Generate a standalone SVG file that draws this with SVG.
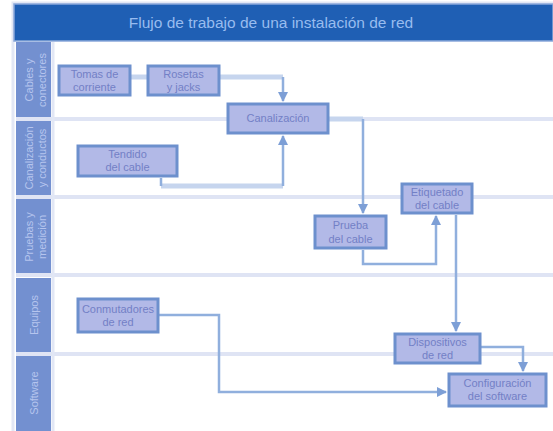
<svg xmlns="http://www.w3.org/2000/svg" width="553" height="431" viewBox="0 0 553 431">
<defs>
<style>
.box{fill:#b2b9e7;stroke:#6d90cd;stroke-width:3}
.bt{font-family:"Liberation Sans",Arial,sans-serif;font-size:11px;fill:#7280c6;text-anchor:middle}
.lane{fill:#7390d0}
.lt{font-family:"Liberation Sans",Arial,sans-serif;font-size:11px;fill:#b6c5ee;text-anchor:middle}
.sep{stroke:#dfe4f4;stroke-width:4}
.c{fill:none;stroke:#90afdd;stroke-width:2.5}
.cp{fill:none;stroke:#c6d5ee;stroke-width:5}
</style>
<marker id="ah" viewBox="0 0 10 10" refX="9" refY="5" markerWidth="4" markerHeight="4" orient="auto" markerUnits="strokeWidth">
<path d="M0,0 L10,5 L0,10 z" fill="#7d9fd6"/>
</marker>
</defs>
<rect width="553" height="431" fill="#ffffff"/>
<rect x="13" y="3" width="545" height="430" fill="none" stroke="#e2e7f5" stroke-width="3"/>
<g id="title">
<rect x="14" y="4" width="539" height="37" fill="#1f5fb4" stroke="#8aa8da" stroke-width="1.5"/>
<text x="271" y="28" font-family="Liberation Sans,Arial,sans-serif" font-size="15.5" fill="#98bcef" text-anchor="middle">Flujo de trabajo de una instalación de red</text>
</g>
<g id="lanes">
<line class="sep" x1="16" y1="119" x2="553" y2="119"/>
<line class="sep" x1="16" y1="197" x2="553" y2="197"/>
<line class="sep" x1="16" y1="275" x2="553" y2="275"/>
<line class="sep" x1="16" y1="354" x2="553" y2="354"/>
<line x1="53" y1="42" x2="53" y2="431" stroke="#e2e7f5" stroke-width="3"/>
<rect class="lane" x="16" y="42" width="35" height="75"/>
<rect class="lane" x="16" y="121" width="35" height="74"/>
<rect class="lane" x="16" y="199" width="35" height="74"/>
<rect class="lane" x="16" y="278" width="35" height="74"/>
<rect class="lane" x="16" y="356" width="35" height="75"/>
<text class="lt" transform="translate(0,80) rotate(-90)"><tspan x="0" y="33">Cables y</tspan><tspan x="0" y="46">conectores</tspan></text>
<text class="lt" transform="translate(0,158) rotate(-90)"><tspan x="0" y="33">Canalización</tspan><tspan x="0" y="46">y conductos</tspan></text>
<text class="lt" transform="translate(0,237) rotate(-90)"><tspan x="0" y="33">Pruebas y</tspan><tspan x="0" y="46">medición</tspan></text>
<text class="lt" transform="translate(0,315) rotate(-90)"><tspan x="0" y="38">Equipos</tspan></text>
<text class="lt" transform="translate(0,393) rotate(-90)"><tspan x="0" y="38">Software</tspan></text>
</g>
<g id="connectors">
<path class="cp" d="M131,77 H147"/>
<path class="cp" d="M220,77 H283"/>
<path class="c" d="M283,77 V101" marker-end="url(#ah)"/>
<path class="cp" d="M161,186 H283"/>
<path class="c" d="M161,178 V186 M283,186 V136" marker-end="url(#ah)"/>
<path class="cp" d="M329,119 H363"/>
<path class="c" d="M363,119 V213" marker-end="url(#ah)"/>
<path class="c" d="M363,250 V264 H436 V216" marker-end="url(#ah)"/>
<path class="c" d="M456,215 V331" marker-end="url(#ah)"/>
<path class="c" d="M481,347 H523 V371" marker-end="url(#ah)"/>
<path class="c" d="M159,315 H219 V392 H446" marker-end="url(#ah)"/>
</g>
<g id="n1"><rect class="box" x="59" y="66" width="71" height="29"/><text class="bt" x="94.5" y="78">Tomas de</text><text class="bt" x="94.5" y="91">corriente</text></g>
<g id="n2"><rect class="box" x="148" y="66" width="71" height="29"/><text class="bt" x="183.5" y="78">Rosetas</text><text class="bt" x="183.5" y="91">y jacks</text></g>
<g id="n3"><rect class="box" x="228" y="104" width="100" height="29"/><text class="bt" x="278" y="122">Canalización</text></g>
<g id="n4"><rect class="box" x="78" y="146" width="99" height="30"/><text class="bt" x="127.5" y="158">Tendido</text><text class="bt" x="127.5" y="171">del cable</text></g>
<g id="n5"><rect class="box" x="402" y="184" width="70" height="29"/><text class="bt" x="437" y="196">Etiquetado</text><text class="bt" x="437" y="209">del cable</text></g>
<g id="n6"><rect class="box" x="315" y="216" width="71" height="32"/><text class="bt" x="350.5" y="229">Prueba</text><text class="bt" x="350.5" y="243">del cable</text></g>
<g id="n7"><rect class="box" x="78" y="299" width="80" height="33"/><text class="bt" x="118" y="313">Conmutadores</text><text class="bt" x="118" y="326">de red</text></g>
<g id="n8"><rect class="box" x="395" y="334" width="85" height="29"/><text class="bt" x="437.5" y="346">Dispositivos</text><text class="bt" x="437.5" y="359">de red</text></g>
<g id="n9"><rect class="box" x="449" y="374" width="97" height="32"/><text class="bt" x="497.5" y="387">Configuración</text><text class="bt" x="497.5" y="400">del software</text></g>
</svg>
